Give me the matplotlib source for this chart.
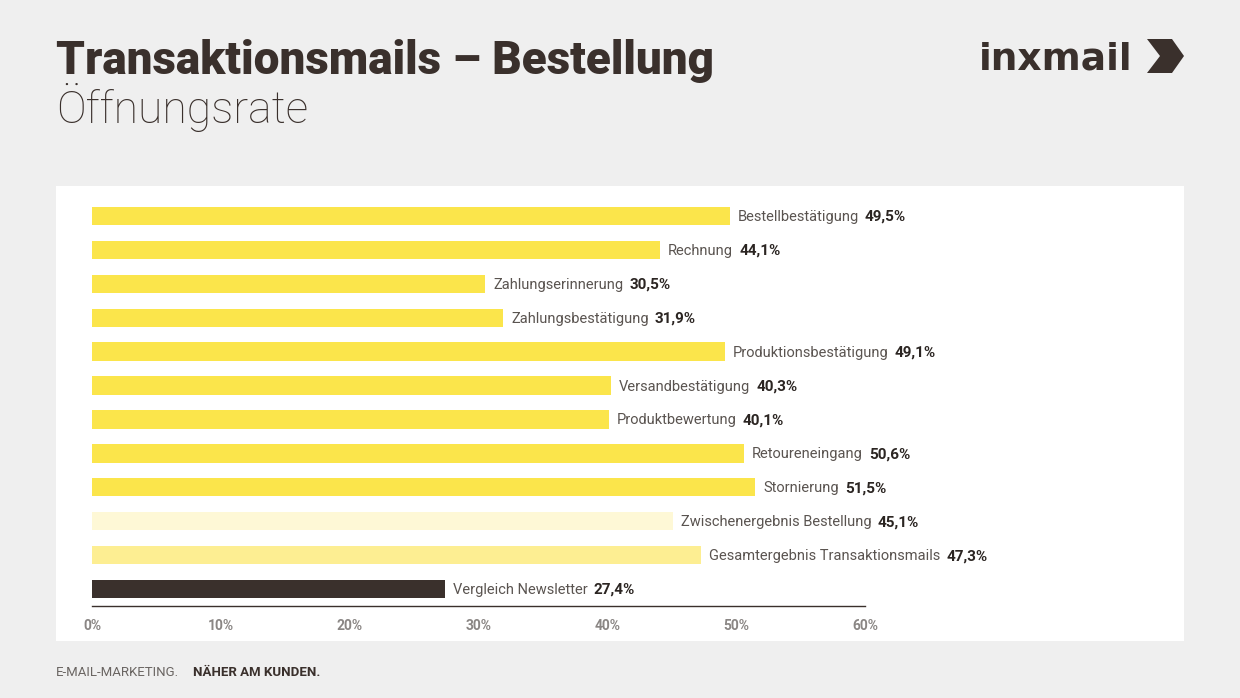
import matplotlib
matplotlib.use("Agg")
import matplotlib.pyplot as plt
from matplotlib.patches import Rectangle, Polygon

# ----- Daten -----
categories = [
    "Bestellbestätigung", "Rechnung", "Zahlungserinnerung", "Zahlungsbestätigung",
    "Produktionsbestätigung", "Versandbestätigung", "Produktbewertung",
    "Retoureneingang", "Stornierung", "Zwischenergebnis Bestellung",
    "Gesamtergebnis Transaktionsmails", "Vergleich Newsletter",
]
values = [49.5, 44.1, 30.5, 31.9, 49.1, 40.3, 40.1, 50.6, 51.5, 45.1, 47.3, 27.4]
kinds = ["mail"] * 9 + ["zwischen", "gesamt", "newsletter"]
xticks = [0, 10, 20, 30, 40, 50, 60]
xtick_labels = ["0%", "10%", "20%", "30%", "40%", "50%", "60%"]

kind_colors = {
    "mail": "#fbe54b",
    "zwischen": "#fef8d6",
    "gesamt": "#fdee92",
    "newsletter": "#3a302c",
}
DARK = "#3a302c"
GRAY = "#5a5450"

plt.rcParams["font.family"] = ["Roboto", "DejaVu Sans"]

W, H = 1240, 698
fig = plt.figure(figsize=(W / 100, H / 100), dpi=100, facecolor="#efefef")


def fx(px):
    return px / W


def fy(py):
    return 1 - py / H


# weisses Panel (hinter den Achsen)
fig.patches.append(Rectangle((fx(56), fy(641)), fx(1184) - fx(56), fy(186) - fy(641),
                             transform=fig.transFigure, facecolor="white",
                             edgecolor="none", zorder=-5))

ax = fig.add_axes([fx(92), fy(606), fx(865) - fx(92), fy(199) - fy(606)])
ax.set_facecolor("none")
ax.set_zorder(2)

ypos = list(range(len(categories)))
bar_colors = [kind_colors[k] for k in kinds]
ax.barh(ypos, values, height=0.54, color=bar_colors, edgecolor="none")

ax.set_xlim(0, 60)
ax.set_ylim(len(categories) - 0.5, -0.5)
ax.set_yticks([])
ax.set_xticks(xticks)
ax.set_xticklabels(xtick_labels, fontsize=10, fontweight="bold", color="#8a8684")
ax.tick_params(axis="x", length=0, pad=9)
for s in ["top", "right", "left"]:
    ax.spines[s].set_visible(False)
ax.spines["bottom"].set_color(DARK)
ax.spines["bottom"].set_linewidth(1.0)

for y, v, cat in zip(ypos, values, categories):
    lab = ax.annotate(cat, xy=(v, y), xytext=(8, -1), textcoords="offset pixels",
                      va="center", ha="left", fontsize=10.5, color=GRAY,
                      annotation_clip=False)
    ax.annotate(f"{v:.1f}%".replace(".", ","), xy=(1, 0.5), xycoords=lab,
                xytext=(6, 0), textcoords="offset pixels", va="center", ha="left",
                fontsize=11, fontweight="bold", color="#2b2522",
                annotation_clip=False)

# Titel
fig.text(fx(56), fy(74), "Transaktionsmails \u2013 Bestellung", fontsize=33,
         fontweight="black", color=DARK, ha="left", va="baseline")
fig.text(fx(56), fy(123), "\u00d6ffnungsrate", fontsize=32, fontweight="light",
         color=DARK, ha="left", va="baseline")

# Logo
fig.text(fx(1133), fy(69), "inxmail", fontsize=27, fontweight="bold",
         family=["DejaVu Sans"], color=DARK, ha="right", va="baseline")
fig.patches.append(Polygon([(fx(1147), fy(39)), (fx(1172), fy(39)), (fx(1184), fy(56)),
                            (fx(1172), fy(73)), (fx(1147), fy(73)), (fx(1160), fy(56))],
                           closed=True, transform=fig.transFigure,
                           facecolor=DARK, edgecolor="none"))

# Fusszeile
fig.text(fx(56), fy(676), "E-MAIL-MARKETING.", fontsize=9.5, color="#6a6562",
         ha="left", va="baseline")
fig.text(fx(193), fy(676), "N\u00c4HER AM KUNDEN.", fontsize=9.5, fontweight="bold",
         color=DARK, ha="left", va="baseline")

fig.savefig("out.png", dpi=100, facecolor=fig.get_facecolor())
